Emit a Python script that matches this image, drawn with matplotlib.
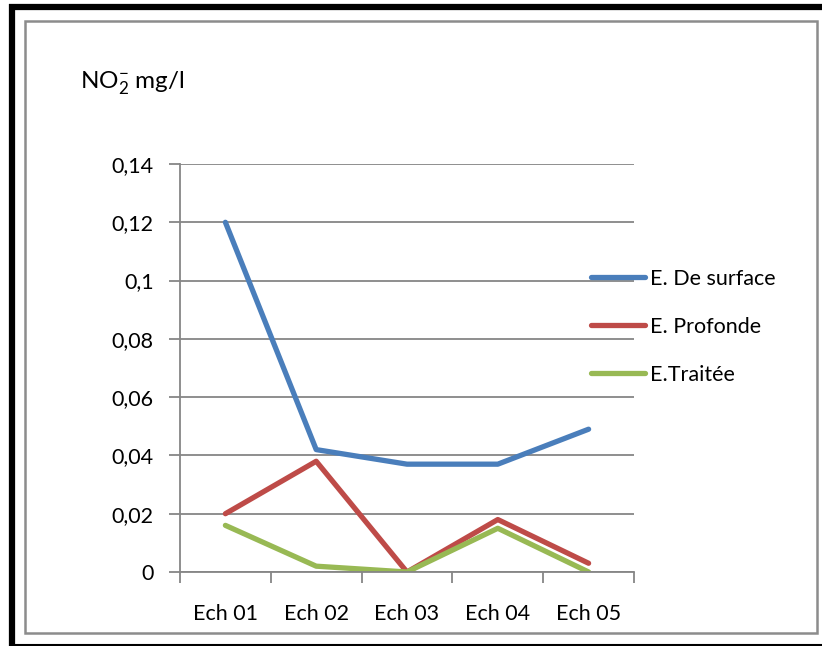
import matplotlib
matplotlib.use('Agg')
import matplotlib.pyplot as plt
from matplotlib.lines import Line2D
from matplotlib.patches import Rectangle

plt.rcParams['font.family'] = ['Lato', 'DejaVu Sans']
plt.rcParams['mathtext.fontset'] = 'custom'
plt.rcParams['mathtext.rm'] = 'Lato'
plt.rcParams['mathtext.it'] = 'Lato:italic'

samples = ['Ech 01', 'Ech 02', 'Ech 03', 'Ech 04', 'Ech 05']
surface = [0.12, 0.042, 0.037, 0.037, 0.049]
profonde = [0.02, 0.038, 0.0, 0.018, 0.003]
traitee = [0.016, 0.002, 0.0, 0.015, 0.0]
y_ticks = [0, 0.02, 0.04, 0.06, 0.08, 0.1, 0.12, 0.14]
y_labels = ['0', '0,02', '0,04', '0,06', '0,08', '0,1', '0,12', '0,14']

W, H = 822, 646
FS = 15.5
fig = plt.figure(figsize=(W / 100, H / 100), dpi=100)

def fx(px):
    return px / W

def fy(px):
    return 1 - px / H

# frame around the chart: heavy black outer edge, thin grey inner box
fig.add_artist(Rectangle((fx(25), fy(633)), fx(817) - fx(25), fy(21) - fy(633),
                         transform=fig.transFigure, fill=False,
                         edgecolor='#8c8c8c', lw=1.8))
fig.add_artist(Line2D([fx(9), 1], [fy(6.5), fy(6.5)], transform=fig.transFigure,
                      color='black', lw=4.5, solid_capstyle='butt'))
fig.add_artist(Line2D([fx(12), fx(12)], [fy(4), fy(646)], transform=fig.transFigure,
                      color='black', lw=4.5, solid_capstyle='butt'))
fig.add_artist(Line2D([fx(10), 1], [fy(644.5), fy(644.5)], transform=fig.transFigure,
                      color='black', lw=1.5, solid_capstyle='butt'))

ax = fig.add_axes([fx(180), fy(572), fx(634) - fx(180), fy(164) - fy(572)])

x = list(range(len(samples)))
ax.plot(x, surface, color='#4a7ebb', lw=3.8, label='E. De surface', solid_capstyle='round')
ax.plot(x, profonde, color='#be4b48', lw=3.8, label='E. Profonde', solid_capstyle='round')
ax.plot(x, traitee, color='#98b954', lw=3.8, label='E.Traitée', solid_capstyle='round')

ax.set_xlim(-0.5, len(samples) - 0.5)
ax.set_ylim(0, 0.14)
ax.set_yticks(y_ticks)
ax.set_yticklabels(y_labels)
ax.set_xticks(x)
ax.set_xticklabels(samples)
ax.set_xticks([i - 0.5 for i in range(len(samples) + 1)], minor=True)

ax.grid(axis='y', color='#868686', lw=1.3)
ax.set_axisbelow(True)
for side in ['top', 'right']:
    ax.spines[side].set_visible(False)
for side in ['left', 'bottom']:
    ax.spines[side].set_color('#868686')
    ax.spines[side].set_linewidth(1.3)

ax.tick_params(axis='y', length=8, width=1.3, color='#868686', labelsize=FS, pad=11)
ax.tick_params(axis='x', which='major', length=0, labelsize=FS, pad=23)
ax.tick_params(axis='x', which='minor', length=8, width=1.3, color='#868686')

fig.text(fx(80), fy(88), r'NO$_\mathregular{2}^\mathregular{-}$ mg/l', fontsize=17.5,
         ha='left', va='baseline')

ax.legend(loc='center left', bbox_to_anchor=(fx(591), fy(327)),
          bbox_transform=fig.transFigure, frameon=False, fontsize=FS,
          handlelength=2.5, handletextpad=0.25, labelspacing=1.3,
          borderpad=0, borderaxespad=0)

fig.savefig('out.png', dpi=100)
